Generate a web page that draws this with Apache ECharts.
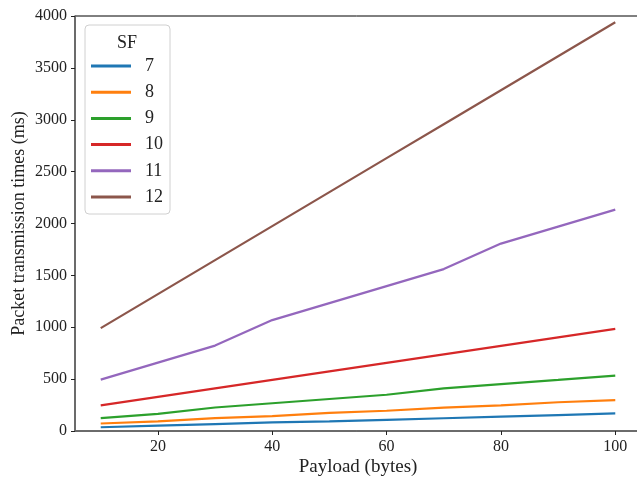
<!DOCTYPE html>
<html>
<head>
<meta charset="utf-8">
<script src="https://cdn.jsdelivr.net/npm/echarts@6/dist/echarts.min.js"></script>
<style>
html,body{margin:0;padding:0;background:#fff;}
#c{width:637px;height:479px;}
</style>
</head>
<body>
<div id="c"></div>
<script>
const payload = [10, 20, 30, 40, 50, 60, 70, 80, 90, 100];
const sf7  = [36.1, 51.5, 66.8, 82.2, 92.4, 107.8, 123.1, 138.5, 153.9, 169.2];
const sf8  = [72.2, 92.7, 123.4, 143.9, 174.6, 195.1, 225.8, 246.3, 277.0, 297.5];
const sf9  = [123.9, 164.9, 226.3, 267.3, 308.2, 349.2, 410.6, 451.6, 492.5, 533.5];
const sf10 = [247.8, 329.7, 411.6, 493.6, 575.5, 657.4, 739.3, 821.2, 903.2, 985.1];
const sf11 = [495.6, 659.5, 823.3, 1069.1, 1232.9, 1396.7, 1560.6, 1806.3, 1970.2, 2134.0];
const sf12 = [991.2, 1318.9, 1646.6, 1974.3, 2301.9, 2629.6, 2957.3, 3285.0, 3612.7, 3940.4];
const seriesNames = ['7', '8', '9', '10', '11', '12'];
const seriesData = [sf7, sf8, sf9, sf10, sf11, sf12];
const colors = ['#1f77b4', '#ff7f0e', '#2ca02c', '#d62728', '#9467bd', '#8c564b'];
const xTicks = [20, 40, 60, 80, 100];

const FONT = '"Liberation Serif", "DejaVu Serif", serif';
const chart = echarts.init(document.getElementById('c'), null, {renderer: 'canvas'});

chart.setOption({
  animation: false,
  backgroundColor: '#fff',
  color: colors,
  grid: {left: 75, top: 16, right: -4, bottom: 48, containLabel: false, outerBoundsMode: 'none',
         show: true, borderColor: '#000', borderWidth: 1, backgroundColor: 'transparent'},
  xAxis: {
    type: 'value', min: 5.5, max: 104.5,
    name: 'Payload (bytes)', nameLocation: 'middle', nameGap: 27, nameMoveOverlap: false,
    nameTextStyle: {fontFamily: FONT, fontSize: 19, color: '#222'},
    axisLine: {lineStyle: {color: '#666', width: 1.6}},
    axisTick: {show: true, length: 4, lineStyle: {color: '#222', width: 1}, customValues: xTicks},
    axisLabel: {fontFamily: FONT, fontSize: 16, color: '#222', margin: 8, customValues: xTicks},
    splitLine: {show: false}
  },
  yAxis: {
    type: 'value', min: 0, max: 4000, interval: 500,
    name: 'Packet transmission times (ms)', nameLocation: 'middle', nameGap: 47, nameMoveOverlap: false,
    nameTextStyle: {fontFamily: FONT, fontSize: 18, color: '#222'},
    axisLine: {show: true, lineStyle: {color: '#666', width: 1.6}},
    axisTick: {show: true, length: 4, lineStyle: {color: '#222', width: 1}},
    axisLabel: {fontFamily: FONT, fontSize: 16, color: '#222', margin: 8, formatter: v => String(v)},
    splitLine: {show: false}
  },
  legend: {
    orient: 'vertical', left: 85, top: 25,
    padding: [31, 7, 7, 6],
    itemWidth: 40, itemHeight: 3, itemGap: 6.2,
    icon: 'rect',
    borderColor: '#d0d0d0', borderWidth: 1, borderRadius: 4,
    backgroundColor: 'rgba(255,255,255,0.8)',
    textStyle: {fontFamily: FONT, fontSize: 18, color: '#222', lineHeight: 20, padding: [0, 0, 0, 9]},
    data: seriesNames
  },
  graphic: [{
    type: 'text', x: 127, y: 43, z: 100,
    style: {text: 'SF', font: '18px ' + FONT, fill: '#222', textAlign: 'center', textVerticalAlign: 'middle'}
  }],
  series: seriesNames.map((n, i) => ({
    name: n, type: 'line', showSymbol: false, symbol: 'none',
    lineStyle: {width: 2.2, color: colors[i]},
    itemStyle: {color: colors[i]},
    data: payload.map((x, j) => [x, seriesData[i][j]])
  }))
});
</script>
</body>
</html>
